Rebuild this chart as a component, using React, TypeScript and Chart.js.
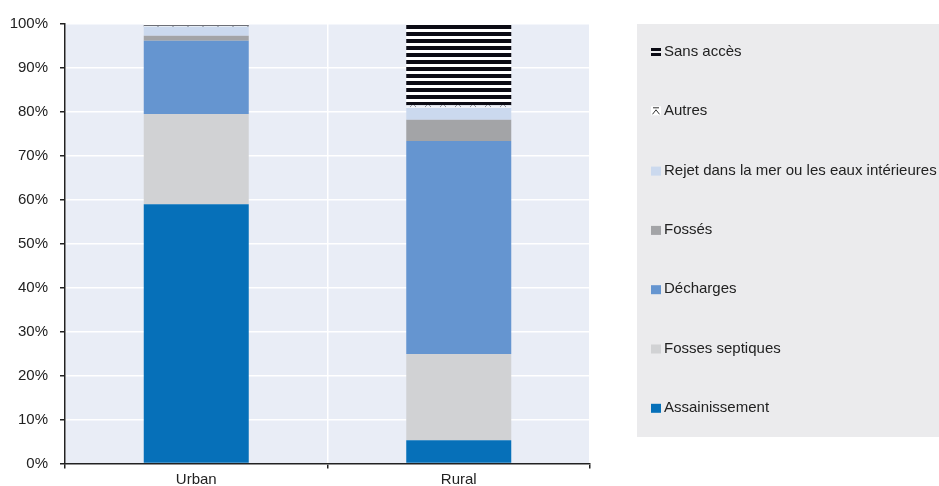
import React, { useEffect, useRef } from "react";
import { Chart, registerables } from "chart.js";

Chart.register(...registerables);

// Share of households by wastewater disposal method, urban vs rural (%)
const categories = ["Urban", "Rural"];
const assainissement = [59.0, 5.3];
const fossesSeptiques = [20.5, 19.6];
const decharges = [16.7, 48.5];
const fosses = [1.1, 4.8];
const rejet = [2.1, 2.7];
const autres = [0.2, 0.6];
const sansAcces = [0.4, 18.5];

const seriesLabels = [
  "Assainissement",
  "Fosses septiques",
  "Décharges",
  "Fossés",
  "Rejet dans la mer ou les eaux intérieures",
  "Autres",
  "Sans accès",
];

const yTickValues = [0, 10, 20, 30, 40, 50, 60, 70, 80, 90, 100];

const FONT = '"Liberation Sans", Arial, Helvetica, sans-serif';

function stripePattern(): CanvasPattern | string {
  const c = document.createElement("canvas");
  c.width = 8;
  c.height = 7;
  const g = c.getContext("2d");
  if (!g) return "#000";
  g.fillStyle = "#ffffff";
  g.fillRect(0, 0, 8, 7);
  g.fillStyle = "#0b0b14";
  g.fillRect(0, 4, 8, 3);
  g.fillRect(0, 0, 8, 1);
  return g.createPattern(c, "repeat") || "#000";
}

function caretPattern(): CanvasPattern | string {
  const c = document.createElement("canvas");
  c.width = 15;
  c.height = 6;
  const g = c.getContext("2d");
  if (!g) return "#ccc";
  g.fillStyle = "#eef1f7";
  g.fillRect(0, 0, 15, 6);
  g.strokeStyle = "#8a8d94";
  g.lineWidth = 1;
  g.beginPath();
  g.moveTo(5, 0.5);
  g.lineTo(11, 0.5);
  g.moveTo(5, 5);
  g.lineTo(8, 2);
  g.lineTo(11, 5);
  g.stroke();
  return g.createPattern(c, "repeat") || "#ccc";
}

export default function App() {
  const canvasRef = useRef<HTMLCanvasElement | null>(null);

  useEffect(() => {
    const canvas = canvasRef.current;
    if (!canvas) return;

    const stripes = stripePattern();
    const carets = caretPattern();

    const seriesData = [
      assainissement,
      fossesSeptiques,
      decharges,
      fosses,
      rejet,
      autres,
      sansAcces,
    ];
    const colors: (string | CanvasPattern)[] = [
      "#0670b9",
      "#d1d2d4",
      "#6595d0",
      "#a3a4a7",
      "#cbd9ee",
      carets,
      stripes,
    ];

    const plotBackground = {
      id: "plotBackground",
      beforeDraw(chart: any) {
        const { ctx, chartArea } = chart;
        ctx.save();
        ctx.fillStyle = "#e9edf6";
        ctx.fillRect(
          chartArea.left,
          chartArea.top,
          chartArea.right - chartArea.left,
          chartArea.bottom - chartArea.top
        );
        ctx.restore();
      },
    };

    // Legend panel on the right, listed top-down in reverse stack order
    const sideLegend = {
      id: "sideLegend",
      afterDraw(chart: any) {
        const { ctx, chartArea, width } = chart;
        const boxX = chartArea.right + 47;
        const boxY = chartArea.top;
        const boxH = 413;
        ctx.save();
        ctx.fillStyle = "#ebebed";
        ctx.fillRect(boxX, boxY, width - boxX, boxH);
        const ds = chart.data.datasets.slice().reverse();
        ds.forEach((d: any, i: number) => {
          const cy = boxY + 28 + i * 59.3;
          const ix = boxX + 14;
          if (d.label === "Autres") {
            ctx.fillStyle = "#ffffff";
            ctx.fillRect(ix, cy - 5, 10, 9);
            ctx.strokeStyle = "#333";
            ctx.lineWidth = 1;
            ctx.beginPath();
            ctx.moveTo(ix + 2, cy - 3.5);
            ctx.lineTo(ix + 8, cy - 3.5);
            ctx.moveTo(ix + 1.5, cy + 3);
            ctx.lineTo(ix + 5, cy - 1.5);
            ctx.lineTo(ix + 8.5, cy + 3);
            ctx.stroke();
          } else if (d.label === "Sans accès") {
            ctx.fillStyle = "#0b0b14";
            ctx.fillRect(ix, cy - 4, 10, 3);
            ctx.fillRect(ix, cy + 1, 10, 3);
          } else {
            ctx.fillStyle = d.backgroundColor;
            ctx.fillRect(ix, cy - 4, 10, 9);
          }
          ctx.fillStyle = "#222";
          ctx.font = `15px ${FONT}`;
          ctx.textBaseline = "middle";
          ctx.textAlign = "left";
          ctx.fillText(d.label, ix + 13, cy);
        });
        ctx.restore();
      },
    };

    const chart = new Chart(canvas, {
      type: "bar",
      data: {
        labels: categories,
        datasets: seriesLabels.map((label, i) => ({
          label,
          data: seriesData[i],
          backgroundColor: colors[i],
          borderWidth: 0,
          barPercentage: 0.4,
          categoryPercentage: 1,
        })),
      },
      options: {
        responsive: false,
        animation: false,
        layout: { padding: { top: 24, right: 349, left: 0, bottom: 0 } },
        plugins: {
          legend: { display: false },
          tooltip: { enabled: false },
        },
        scales: {
          x: {
            stacked: true,
            grid: {
              color: "#ffffff",
              lineWidth: 1.5,
              offset: true,
              drawTicks: true,
              tickColor: "#222",
              tickLength: 5,
            },
            border: { display: true, color: "#222", width: 1.5 },
            ticks: {
              color: "#222",
              padding: 2,
              font: { family: FONT, size: 15 },
            },
            afterFit(scale: any) {
              scale.height = 22.5;
            },
          },
          y: {
            stacked: true,
            min: 0,
            max: 100,
            afterBuildTicks(scale: any) {
              scale.ticks = yTickValues.map((v) => ({ value: v }));
            },
            grid: {
              color: "#ffffff",
              lineWidth: 1.5,
              drawTicks: true,
              tickColor: "#222",
              tickLength: 5,
            },
            border: { display: true, color: "#222", width: 1.5 },
            ticks: {
              color: "#222",
              padding: 12,
              font: { family: FONT, size: 15 },
              callback: (v: any) => `${v}%`,
            },
            afterFit(scale: any) {
              scale.width = 65;
            },
          },
        },
      },
      plugins: [plotBackground, sideLegend],
    });

    return () => chart.destroy();
  }, []);

  return (
    <div
      style={{
        position: "absolute",
        left: 0,
        top: 0,
        width: 939,
        height: 486,
        background: "#ffffff",
      }}
    >
      <canvas ref={canvasRef} width={939} height={486} />
    </div>
  );
}
